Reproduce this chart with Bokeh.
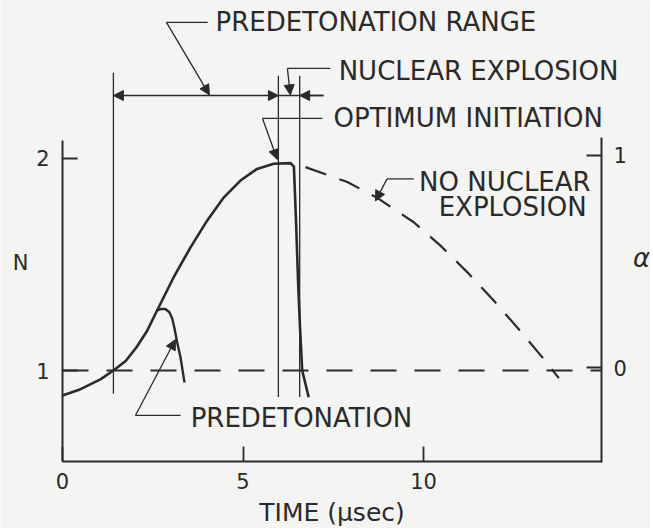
from bokeh.plotting import figure
from bokeh.models import Range1d, LinearAxis, FixedTicker, Arrow, NormalHead
from bokeh.core.properties import value
from bokeh.embed import file_html
from bokeh.resources import INLINE

# ---------------- data ----------------
# N(t): neutron multiplication with optimum initiation (solid)
main_t = [0.0, 0.5, 1.05, 1.41, 1.75, 2.05, 2.35, 2.62, 3.08, 3.55, 4.01, 4.47, 4.93, 5.39,
          5.85, 6.32, 6.41, 6.47, 6.53, 6.58, 6.64, 6.82]
main_n = [0.882, 0.912, 0.958, 1.0, 1.045, 1.11, 1.189, 1.283, 1.44, 1.582, 1.708, 1.817, 1.896,
          1.951, 1.975, 1.978, 1.962, 1.70, 1.40, 1.20, 1.0, 0.874]
# predetonation branch (solid)
pre_t = [2.62, 2.72, 2.85, 2.96, 3.04, 3.10, 3.18, 3.27, 3.38]
pre_n = [1.283, 1.29, 1.29, 1.275, 1.245, 1.20, 1.13, 1.061, 0.943]
# alpha(t) with no nuclear explosion (dashed, right axis)
noexp_t = [6.73, 7.89, 8.72, 9.73, 10.47, 11.21, 11.95, 12.69, 13.33, 13.75]
noexp_alpha = [0.945, 0.875, 0.800, 0.685, 0.575, 0.450, 0.315, 0.170, 0.040, -0.050]
baseline_n = 1.0

t_ticks = [0, 5, 10]
t_tick_labels = ["0", "5", "10"]
n_ticks = [1, 2]
n_tick_labels = ["1", "2"]
alpha_ticks = [0, 1]
alpha_tick_labels = ["0", "1"]

# marked instants (microseconds)
range_start_t = 1.41
optimum_t = 5.98
explosion_t = 6.57
t_max = 14.93

INK = "#2a2a2a"
BG = "#f4f4f2"
FONT = "DejaVu Sans"

p = figure(width=650, height=528,
           x_range=Range1d(-1.7175, 16.288), y_range=Range1d(0.25472, 2.74528),
           output_backend="svg", toolbar_location=None,
           x_axis_location=None, y_axis_location=None, min_border=0,
           background_fill_color=BG, border_fill_color=BG, outline_line_color=None)
p.extra_y_ranges = {"alpha": Range1d(-0.75943, 1.73113)}
p.grid.visible = False


def style_axis(ax, ticks, labels, standoff):
    ax.ticker = FixedTicker(ticks=ticks)
    ax.major_label_overrides = {t: l for t, l in zip(ticks, labels)}
    ax.axis_line_color = INK
    ax.axis_line_width = 2
    ax.major_tick_line_color = INK
    ax.major_tick_line_width = 1.8
    ax.major_tick_in = 15
    ax.major_tick_out = 0
    ax.minor_tick_line_color = None
    ax.major_label_text_font = FONT
    ax.major_label_text_font_size = "21px"
    ax.major_label_text_color = INK
    ax.major_label_standoff = standoff


xaxis = LinearAxis(fixed_location=0.5684, bounds=(0, t_max))
style_axis(xaxis, t_ticks, t_tick_labels, 11)
xaxis.axis_label = "TIME (\u03bcsec)"
xaxis.axis_label_text_font = FONT
xaxis.axis_label_text_font_size = "25px"
xaxis.axis_label_text_font_style = "normal"
xaxis.axis_label_text_color = INK
xaxis.axis_label_standoff = 6
p.add_layout(xaxis, "below")

yaxis = LinearAxis(fixed_location=0, bounds=(0.5684, 2.0849))
style_axis(yaxis, n_ticks, n_tick_labels, 13)
p.add_layout(yaxis, "left")

raxis = LinearAxis(y_range_name="alpha", fixed_location=t_max, bounds=(-0.4458, 1.0849))
style_axis(raxis, alpha_ticks, alpha_tick_labels, 12)
p.add_layout(raxis, "right")

# reference dashed line N = 1 (alpha = 0)
p.line([0, t_max], [baseline_n, baseline_n], line_color=INK, line_width=1.8, line_dash="26 18")

# curves
p.line(main_t, main_n, line_color=INK, line_width=2.6, line_join="round")
p.line(pre_t, pre_n, line_color=INK, line_width=2.4, line_join="round")
p.line(noexp_t, noexp_alpha, y_range_name="alpha", line_color=INK, line_width=2.2,
       line_dash="22 14")

# vertical guide lines for the marked instants
p.segment(x0=[range_start_t, optimum_t, explosion_t], y0=[0.89, 0.875, 0.875],
          x1=[range_start_t, optimum_t, explosion_t], y1=[2.405, 2.39, 2.39],
          line_color=INK, line_width=1.3)

arrow_y = 2.297


def head():
    return NormalHead(size=10, line_color=INK, fill_color=INK, line_width=1)


# predetonation range dimension arrow
p.add_layout(Arrow(start=head(), end=head(), x_start=range_start_t, y_start=arrow_y,
                   x_end=optimum_t, y_end=arrow_y, line_color=INK, line_width=1.4))
p.segment(x0=[optimum_t], y0=[arrow_y], x1=[7.23], y1=[arrow_y], line_color=INK, line_width=1.4)
p.add_layout(Arrow(end=head(), x_start=7.23, y_start=arrow_y, x_end=explosion_t, y_end=arrow_y,
                   line_color=INK, line_width=1.4))

# leaders
leader_xs = [[4.02, 2.88], [7.42, 6.23], [7.20, 5.54], [9.73, 8.99], [3.27, 2.02]]
leader_ys = [[2.642, 2.642], [2.425, 2.425], [2.189, 2.189], [1.904, 1.904], [0.788, 0.788]]
p.multi_line(leader_xs, leader_ys, line_color=INK, line_width=1.3)
arrow_specs = [
    (2.88, 2.642, 4.07, 2.30),
    (6.23, 2.425, 6.31, 2.30),
    (5.54, 2.189, 5.95, 1.995),
    (8.99, 1.904, 8.67, 1.80),
    (2.02, 0.788, 3.13, 1.146),
]
for xs, ys, xe, ye in arrow_specs:
    p.add_layout(Arrow(end=head(), x_start=xs, y_start=ys, x_end=xe, y_end=ye,
                       line_color=INK, line_width=1.3))

# annotation texts
left_texts = ["PREDETONATION RANGE", "NUCLEAR EXPLOSION", "OPTIMUM INITIATION", "PREDETONATION"]
left_tx = [4.24, 7.65, 7.51, 3.55]
left_ty = [2.642, 2.415, 2.189, 0.778]
p.text(left_tx, left_ty, text=left_texts, text_font=value(FONT), text_font_size=value("26px"),
       text_color=INK, text_align="left", text_baseline="middle")

right_texts = ["NO NUCLEAR", "EXPLOSION"]
right_tx = [14.63, 14.52]
right_ty = [1.887, 1.769]
p.text(right_tx, right_ty, text=right_texts, text_font=value(FONT), text_font_size=value("26px"),
       text_color=INK, text_align="right", text_baseline="middle")

# axis titles
p.text([-1.163], [1.509], text=["N"], text_font=value(FONT), text_font_size=value("21px"),
       text_color=INK, text_align="center", text_baseline="middle")
p.text([16.04], [1.533], text=["\u03b1"], text_font=value(FONT), text_font_size=value("26px"),
       text_font_style="italic", text_color=INK, text_align="center", text_baseline="middle")

open("out.html", "w").write(file_html(p, INLINE))
